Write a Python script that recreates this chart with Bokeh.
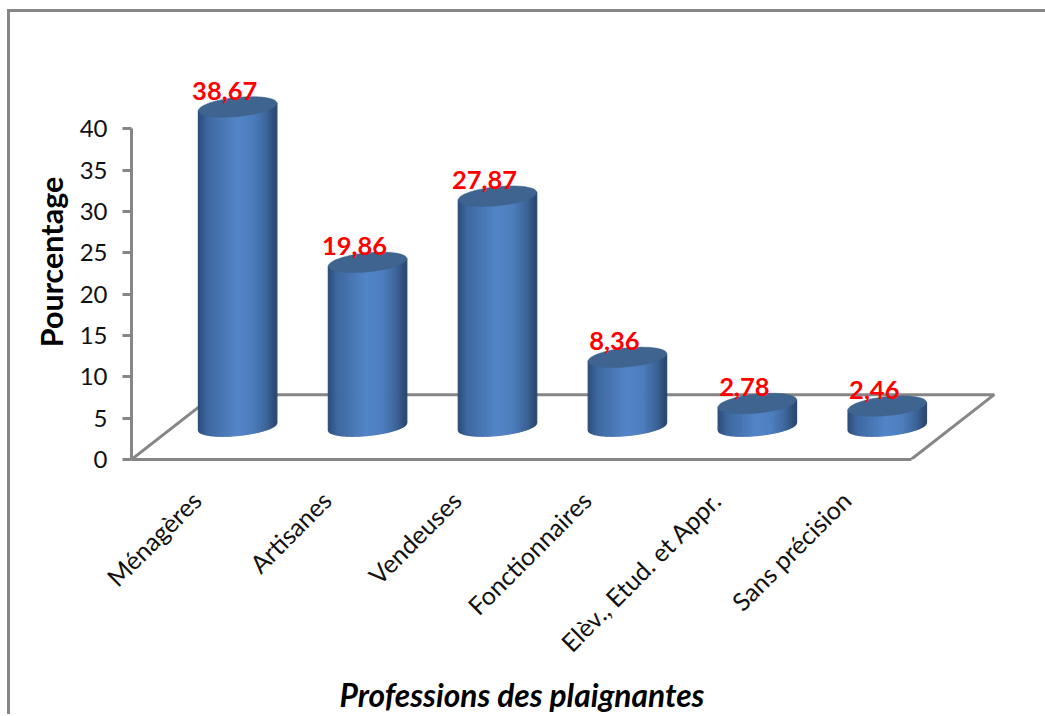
import numpy as np
from bokeh.plotting import figure
from bokeh.embed import file_html
from bokeh.resources import INLINE
from bokeh.core.properties import value
from bokeh.models import FixedTicker, Title

categories = ["Ménagères", "Artisanes", "Vendeuses", "Fonctionnaires",
              "Elèv., Etud. et Appr.", "Sans précision"]
valeurs = [38.67, 19.86, 27.87, 8.36, 2.78, 2.46]
y_ticks = [0, 5, 10, 15, 20, 25, 30, 35, 40]
y_title = "Pourcentage"
x_title = "Professions des plaignantes"

GREY = "#868686"
FONT = "Lato"
X_UNIT, Y_UNIT = 129.5, 8.2           # px per x unit, per y unit
X0, Y0 = 10, 14                       # page position of the canvas corner
W, H = 1045 - X0, 716 - Y0
BASE_PX = 458 - Y0
LEFT_PX = 131 - X0
TOP_PX = 66 - Y0

p = figure(width=W, height=H, output_backend="svg", toolbar_location=None,
           x_range=(0, (W - LEFT_PX) / X_UNIT), y_range=(0, (BASE_PX - TOP_PX) / Y_UNIT),
           min_border_left=LEFT_PX, min_border_bottom=H - BASE_PX,
           min_border_top=TOP_PX, min_border_right=0, outline_line_color=None,
           styles={"border-left": f"3px solid {GREY}", "border-top": f"3px solid {GREY}",
                   "margin-left": f"{X0 - 3}px", "margin-top": f"{Y0 - 5}px",
                   "box-sizing": "content-box"})
p.grid.visible = False

# axes
ya = p.yaxis[0]
ya.ticker = FixedTicker(ticks=y_ticks)
ya.bounds = (0, 40)
ya.axis_line_color = GREY
ya.axis_line_width = 3
ya.major_tick_line_color = GREY
ya.major_tick_line_width = 3
ya.major_tick_out = 9
ya.major_tick_in = 0
ya.minor_tick_line_color = None
ya.major_label_text_font = FONT
ya.major_label_text_font_size = "24px"
ya.major_label_text_color = "#111111"
ya.major_label_standoff = 15
ya.axis_label = y_title
ya.axis_label_text_font = FONT
ya.axis_label_text_font_style = "bold"
ya.axis_label_text_font_size = "30.5px"
ya.axis_label_text_color = "#000000"
ya.axis_label_standoff = 8

xa = p.xaxis[0]
xa.ticker = FixedTicker(ticks=[i + 0.5 for i in range(len(categories))])
xa.major_label_overrides = {i + 0.5: c for i, c in enumerate(categories)}
xa.bounds = (0, 6)
xa.axis_line_color = GREY
xa.axis_line_width = 3
xa.major_tick_line_color = None
xa.minor_tick_line_color = None
xa.major_label_orientation = np.pi / 4
xa.major_label_text_font = FONT
xa.major_label_text_font_size = "25px"
xa.major_label_text_color = "#111111"
xa.major_label_standoff = 30

# floor
DX, DY = 0.64, 7.85
p.line([0, DX, 6 + DX, 6], [0, DY, DY, 0], line_color=GREY, line_width=3)

# cylinders
OFFX, BASE = 0.317, 4.0
HW, B, S = 0.302, 1.1, 1.5
stops_pos = [0, 0.12, 0.5, 0.7, 0.88, 1]
stops_rgb = np.array([[44, 76, 120], [62, 104, 160], [84, 134, 200],
                      [78, 126, 190], [60, 100, 152], [42, 70, 110]])
N = 40
edges = np.linspace(-1, 1, N + 1)
xs, ys, cols = [], [], []
tx, ty = [], []
for i, v in enumerate(valeurs):
    cx = i + 0.5 + OFFX
    top = BASE + v
    for a, b in zip(edges[:-1], edges[1:]):
        dom = np.linspace(a, b, 4)
        low = BASE + S * HW * dom - B * np.sqrt(np.clip(1 - dom**2, 0, 1))
        xs.append(list(cx + HW * dom) + [cx + HW * b, cx + HW * a])
        ys.append(list(low) + [top + S * HW * b, top + S * HW * a])
        m = (a + b + 2) / 4
        c = [int(np.interp(m, stops_pos, stops_rgb[:, k])) for k in range(3)]
        cols.append("#%02x%02x%02x" % tuple(c))
    t = np.linspace(0, 2 * np.pi, 90)
    tx.append(list(cx + HW * np.cos(t)))
    ty.append(list(top + S * HW * np.cos(t) + B * 1.05 * np.sin(t)))
p.patches(xs, ys, fill_color=cols, line_color=cols, line_width=1.2)
p.patches(tx, ty, fill_color="#3e648f", line_color="#3e648f", line_width=0.5)

# value labels
p.text([i + 0.5 + OFFX for i in range(len(valeurs))], [BASE + v for v in valeurs],
       text=[f"{v:.2f}".replace(".", ",") for v in valeurs],
       text_color="#ff0000", text_font=value(FONT), text_font_style="bold",
       text_font_size="25.5px", text_align="center", text_baseline="middle",
       x_offset=-13, y_offset=-16)

# x title
p.add_layout(Title(text=x_title, align="left", offset=208, standoff=6,
                   text_font=FONT, text_font_style="bold italic", text_font_size="31.7px",
                   text_color="#000000"), "below")

open("out.html", "w").write(file_html(p, INLINE))
